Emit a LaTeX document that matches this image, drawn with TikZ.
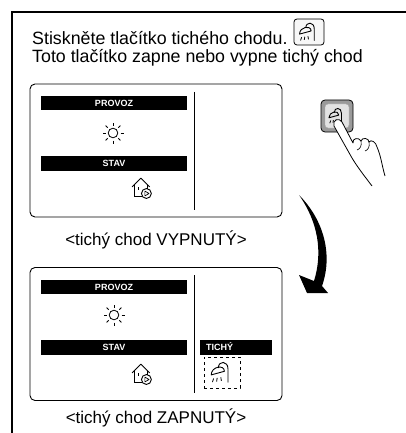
\documentclass[tikz,border=0pt]{standalone}
\usepackage{fontspec}
\setmainfont{Liberation Sans}
\usepackage{tikz}
\usetikzlibrary{positioning}
\definecolor{keygrey}{HTML}{9A9A9A}
\definecolor{keyface}{HTML}{E2E2E2}

\begin{document}
\begin{tikzpicture}[
  x=1pt,y=-1pt,
  frame/.style={line width=1.4pt},
  panel/.style={draw,rounded corners=5pt,line width=0.9pt,
    minimum width=252pt,minimum height=133pt},
  bar/.style={fill=black,text=white,inner sep=0pt,
    font=\fontsize{9}{9}\selectfont\bfseries},
  statecap/.style={font=\fontsize{17}{20}\selectfont},
  txt/.style={anchor=west,inner sep=0pt,font=\fontsize{17.8}{20}\selectfont},
  sep/.style={line width=0.9pt},
  shower/.pic={
    \draw[line width=0.9pt,line cap=round] (5,8) -- (5,-3)
      .. controls (5,-10) and (-3,-10) .. (-3,-4);
    \draw[line width=0.9pt,line join=round] (-9,2)
      .. controls (-9,-5) and (2,-7) .. (2,-1) -- cycle;
    \draw[line width=0.8pt] (-7,5) -- (-8,8) (-4,4.5) -- (-4.5,7.5)
      (-1,4) -- (-0.5,7);
  },
  sun/.pic={
    \draw[line width=0.8pt] (0,0) circle (4.8);
    \foreach \a in {0,45,...,315}
      \draw[line width=0.9pt] (\a:7.5) -- (\a:10.5);
  },
  house/.pic={
    \draw[line width=0.9pt,line join=round] (-9,-1) -- (-1,-9) -- (7,-1);
    \draw[line width=0.9pt] (-7,-3) -- (-7,8) -- (0,8);
    \draw[line width=0.9pt] (5,-3) -- (5,0.5);
    \fill (-4,-1) rectangle (-2.5,2);
    \draw[line width=0.9pt] (4,5) circle (4.5);
    \draw[line width=0.7pt,line join=round] (2.6,2.8) -- (6.4,5) -- (2.6,7.2) -- cycle;
  }
]
\useasboundingbox (0,0) rectangle (406,433);

% outer frame, open to the right and below
\draw[frame] (12,433) -- (12,12) -- (406,12);

% instruction text and key
\node[txt] (line1) at (32,38) {Stiskněte tlačítko tichého chodu.};
\node[txt] (line2) at (32,58) {Toto tlačítko zapne nebo vypne tichý chod};
\node[draw,fill=gray!6,rounded corners=3pt,line width=0.8pt,
  minimum width=30pt,minimum height=26pt] (hdrkey) at (309,32) {};
\pic[scale=1.05] at (hdrkey) {shower};

% display, quiet mode off
\node[panel] (offbox) at (156,150.5) {};
\draw[sep] (194,92) -- (194,210);
\node[bar,minimum width=146pt,minimum height=14pt] (offprovoz) at (114,103) {PROVOZ};
\pic at (113,133) {sun};
\node[bar,minimum width=146pt,minimum height=15pt] (offstav) at (114,163) {STAV};
\pic[scale=1.1] at (142,188) {house};
\node[statecap] (offcap) at (156,240) {<tichý chod VYPNUTÝ>};

% pressed key with hand
\node[draw,fill=keygrey,rounded corners=4pt,line width=0.8pt,
  minimum size=32pt] (presskey) at (337,116) {};
\node[draw=gray!70,fill=keyface,rounded corners=3pt,line width=0.4pt,
  minimum size=24pt] (pressface) at (presskey) {};
\pic[scale=0.9] at (presskey) {shower};
\fill[white] (372,186) .. controls (366,178) and (358,168) .. (352,158)
  -- (334,126) .. controls (332,120) and (339,117) .. (342,122) -- (353,143)
  .. controls (352,138) and (359,137) .. (361,141)
  .. controls (362,137) and (369,138) .. (369,142)
  .. controls (371,139) and (376,142) .. (377,147)
  .. controls (381,156) and (382,166) .. (385,176) -- cycle;
\draw[line width=0.8pt,line join=round] (372,186)
  .. controls (366,178) and (358,168) .. (352,158)
  -- (334,126) .. controls (332,120) and (339,117) .. (342,122) -- (353,143)
  .. controls (352,138) and (359,137) .. (361,141)
  .. controls (362,137) and (369,138) .. (369,142)
  .. controls (371,139) and (376,142) .. (377,147)
  .. controls (381,156) and (382,166) .. (385,176);
\draw[line width=0.6pt] (361,141) .. controls (362,146) and (360,149) .. (357,150);
\draw[line width=0.6pt] (369,142) .. controls (370,147) and (368,150) .. (365,151);

% curved arrow between the two states
\coordinate (arrowtail) at (299,195);
\coordinate (arrowtip) at (307,293);
\fill (arrowtail) .. controls (324,220) and (333,255) .. (322,286)
  -- (328,293) -- (arrowtip) -- (299,275) -- (314,281)
  .. controls (323,252) and (318,222) .. (arrowtail) -- cycle;

% display, quiet mode on
\node[panel] (onbox) at (156,334) {};
\draw[sep] (194,275) -- (194,393);
\node[bar,minimum width=146pt,minimum height=14pt] (onprovoz) at (114,287) {PROVOZ};
\pic at (114,315) {sun};
\node[bar,minimum width=146pt,minimum height=15pt] (onstav) at (114,347) {STAV};
\pic[scale=1.1] at (142,374) {house};
\node[bar,anchor=west,text width=60pt,inner xsep=6pt,minimum height=15pt,
  align=left] (ontichy) at (200,347) {TICHÝ};
\node[draw,dashed,line width=0.8pt,minimum width=36pt,minimum height=31pt]
  (quietmark) at (222,372.5) {};
\pic[scale=1.2] at (quietmark) {shower};
\node[statecap] (oncap) at (156,418) {<tichý chod ZAPNUTÝ>};
\end{tikzpicture}
\end{document}
